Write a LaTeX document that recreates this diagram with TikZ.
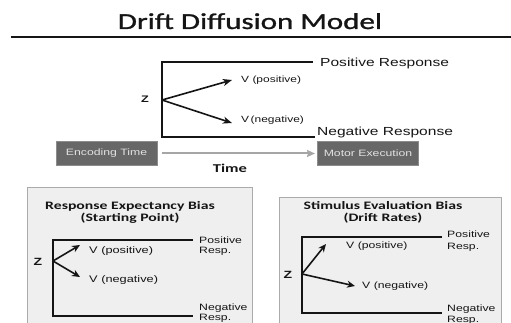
\documentclass[tikz,border=0pt]{standalone}
\usepackage{fontspec}
\setmainfont[FakeStretch=1.33]{Liberation Sans}
\newfontfamily\ttlfont[FakeStretch=1.38]{Carlito}
\newfontfamily\headfont[FakeStretch=1.36, FakeBold=1.2]{Carlito}
\newfontfamily\zfont[FakeStretch=1.33]{Liberation Sans Bold}
\usetikzlibrary{arrows.meta}
\definecolor{stagefill}{HTML}{676767}
\definecolor{stageedge}{HTML}{8C8C8C}
\definecolor{stagetext}{HTML}{E2E2E2}
\definecolor{panelfill}{HTML}{EFEFEF}
\definecolor{paneledge}{HTML}{ABABAB}
\definecolor{timegray}{HTML}{A6A6A6}
\definecolor{ink}{HTML}{151515}
\tikzset{
  bound/.style={ink, line width=2pt, line join=miter},
  drift/.style={ink, line width=1.6pt, -{Stealth[length=9pt,width=7pt,inset=2.5pt]}},
  vlab/.style={anchor=base west, inner sep=0pt, ink},
  zlab/.style={inner sep=0pt, ink, font=\zfont\fontsize{10.5}{12}\selectfont},
  stage/.style={fill=stagefill, draw=stageedge, line width=1pt, text=stagetext,
    minimum width=101pt, minimum height=24pt, inner sep=0pt, font=\fontsize{9.2}{11}\selectfont},
  ptitle/.style={anchor=base, inner sep=0pt, ink, font=\ttlfont\bfseries\fontsize{11.4}{13}\selectfont}
}
\begin{document}
\begin{tikzpicture}[x=1pt, y=-1pt, line cap=butt]
\useasboundingbox (0,0) rectangle (511,323);
% title and rule
\node[anchor=base, inner sep=0pt, ink, font=\headfont\fontsize{22.8}{26}\selectfont] (title) at (250,29) {Drift Diffusion Model};
\coordinate (rl) at (11,37); \coordinate (rr) at (511,37);
\draw[ink, line width=2.2pt] (rl) -- (rr);

% main diagram
\coordinate (z0) at (162,100);
\coordinate (tt) at (162,62); \coordinate (tb) at (162,137);
\coordinate (te) at (313,62); \coordinate (be) at (315,137);
\draw[bound] (te) -- (tt) -- (tb) -- (be);
\coordinate (vp) at (232,80); \coordinate (vn) at (232,123);
\draw[drift] (z0) -- (vp);
\draw[drift] (z0) -- (vn);
\node[zlab, font=\zfont\fontsize{9.5}{11}\selectfont] (zm) at (145,99.5) {Z};
\node[vlab, font=\fontsize{9}{11}\selectfont] (vpm) at (241,83) {V (positive)};
\node[vlab, font=\fontsize{9}{11}\selectfont] (vnm) at (241,123) {V\,(negative)};
\node[vlab, font=\fontsize{11.7}{13}\selectfont] (posm) at (320,66.7) {Positive Response};
\node[vlab, font=\fontsize{11.7}{13}\selectfont] (negm) at (317,135.7) {Negative Response};

% stages and time
\node[stage] (enc) at (106.5,153.5) {Encoding Time};
\node[stage] (mot) at (368,153.5) {Motor Execution};
\draw[timegray, line width=2pt, -{Stealth[length=8pt,width=7pt,inset=1pt]}, shorten <=4pt, shorten >=2pt] (enc) -- (mot);
\node[anchor=base, inner sep=0pt, ink, font=\ttlfont\bfseries\fontsize{12}{14}\selectfont] (tlab) at (230,173) {Time};

% response expectancy bias
\filldraw[fill=panelfill, draw=paneledge, line width=0.8pt] (27,187) rectangle (252,330);
\node[ptitle] (lt1) at (130,209) {Response Expectancy Bias};
\node[ptitle] (lt2) at (130,221) {(Starting Point)};
\coordinate (lz) at (53,261);
\coordinate (ltt) at (53,240); \coordinate (ltb) at (53,316);
\coordinate (lte) at (193,240); \coordinate (lbe) at (193,316);
\draw[bound] (lte) -- (ltt) -- (ltb) -- (lbe);
\coordinate (lvp) at (80,245); \coordinate (lvn) at (80,277);
\draw[drift, -{Stealth[length=8pt,width=7pt,inset=2.5pt]}] (lz) -- (lvp);
\draw[drift, -{Stealth[length=8pt,width=7pt,inset=2.5pt]}] (lz) -- (lvn);
\node[zlab] (lzl) at (38,262) {Z};
\node[vlab, font=\fontsize{9.6}{11}\selectfont] (lvpl) at (89,253) {V (positive)};
\node[vlab, font=\fontsize{9.6}{11}\selectfont] (lvnl) at (89,282) {V (negative)};
\node[vlab, font=\fontsize{9.2}{10.2}\selectfont] (lpos1) at (199,243) {Positive};
\node[vlab, font=\fontsize{9.2}{10.2}\selectfont] (lpos2) at (199,253) {Resp.};
\node[vlab, font=\fontsize{9.2}{10.2}\selectfont] (lneg1) at (199,310) {Negative};
\node[vlab, font=\fontsize{9.2}{10.2}\selectfont] (lneg2) at (199,320) {Resp.};

% stimulus evaluation bias
\filldraw[fill=panelfill, draw=paneledge, line width=0.8pt] (279,197) rectangle (501,330);
\node[ptitle] (rt1) at (383,209) {Stimulus Evaluation Bias};
\node[ptitle] (rt2) at (383,222) {(Drift Rates)};
\coordinate (rz) at (302,274);
\coordinate (rtt) at (302,237); \coordinate (rtb) at (302,313);
\coordinate (rte) at (442,237); \coordinate (rbe) at (442,313);
\draw[bound] (rte) -- (rtt) -- (rtb) -- (rbe);
\coordinate (rvp) at (326,244); \coordinate (rvn) at (355,286);
\draw[drift, -{Stealth[length=8pt,width=7pt,inset=2.5pt]}] (rz) -- (rvp);
\draw[drift, -{Stealth[length=8pt,width=7pt,inset=2.5pt]}] (rz) -- (rvn);
\node[zlab] (rzl) at (288,274.5) {Z};
\node[vlab, font=\fontsize{9.2}{11}\selectfont] (rvpl) at (346,248) {V (positive)};
\node[vlab, font=\fontsize{9.2}{11}\selectfont] (rvnl) at (362,288) {V (negative)};
\node[vlab, font=\fontsize{9.2}{10.2}\selectfont] (rpos1) at (447,237) {Positive};
\node[vlab, font=\fontsize{9.2}{10.2}\selectfont] (rpos2) at (447,249) {Resp.};
\node[vlab, font=\fontsize{9.2}{10.2}\selectfont] (rneg1) at (447,311) {Negative};
\node[vlab, font=\fontsize{9.2}{10.2}\selectfont] (rneg2) at (447,322) {Resp.};
\end{tikzpicture}
\end{document}
